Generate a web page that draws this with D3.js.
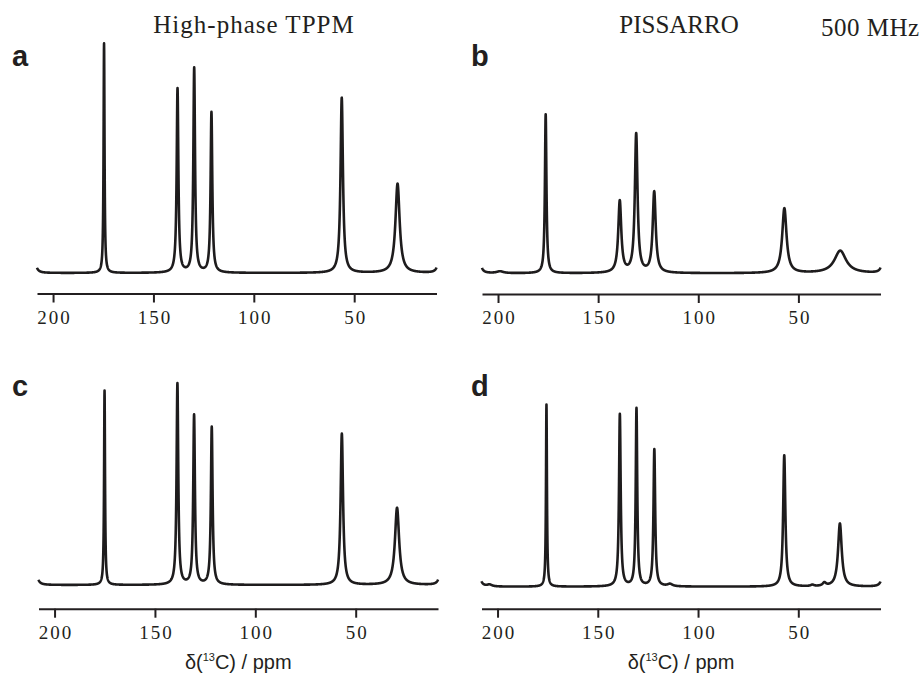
<!DOCTYPE html>
<html lang="en">

<head>
    <meta charset="UTF-8" />
    <title>13C CPMAS decoupling comparison</title>
    <script src="https://cdnjs.cloudflare.com/ajax/libs/d3/7.8.5/d3.min.js"></script>
    <style>
        body {
            margin: 0;
            padding: 0;
            background: white;
        }

        .col-title {
            font-family: 'Liberation Serif', serif;
            font-size: 25px;
            fill: #231f20;
        }

        .panel-letter {
            font-family: 'Liberation Sans', Arial, sans-serif;
            font-weight: bold;
            font-size: 29px;
            fill: #231f20;
        }

        .x-title {
            font-family: 'Liberation Sans', Arial, sans-serif;
            font-size: 20px;
            fill: #231f20;
        }
    </style>
</head>

<body>
    <svg id="chart" width="922" height="675"></svg>

    <script>
        // chemical shift window and ticks
        const ppmDomain = [208, 9];
        const tickValues = [200, 150, 100, 50];
        const panelLetters = ["a", "b", "c", "d"];
        const columnTitles = ["High-phase TPPM", "PISSARRO"];

        // peaks: shift (ppm), height (a.u., tallest = 100), half-width (ppm)
        const shiftsA = [174.6, 138.0, 129.7, 121.1, 56.2, 28.4];
        const heightsA = [100, 80.2, 89.1, 69.8, 76.3, 38.9];
        const widthsA = [0.28, 0.5, 0.5, 0.5, 0.72, 1.25];

        const shiftsB = [199.0, 176.2, 139.2, 131.0, 122.0, 57.0, 29.1];
        const heightsB = [0.8, 69.2, 31.2, 60.4, 35.2, 28.2, 9.8];
        const widthsB = [2.0, 0.45, 0.9, 0.8, 0.9, 1.3, 3.5];

        const shiftsC = [175.1, 138.8, 130.5, 121.7, 56.9, 29.4];
        const heightsC = [84.7, 87.6, 73.8, 68.7, 65.9, 33.6];
        const widthsC = [0.28, 0.5, 0.5, 0.5, 0.72, 1.25];

        const shiftsD = [204.0, 175.6, 139.0, 130.7, 121.8, 114.0, 57.0, 43.0, 37.0, 29.25];
        const heightsD = [0.8, 79.3, 75.0, 77.5, 59.7, 1.0, 57.2, 0.6, 1.4, 27.5];
        const widthsD = [1.5, 0.28, 0.5, 0.45, 0.5, 1.5, 0.65, 1.0, 1.0, 1.1];

        // the small upturn at both ends of every spectrum
        const edgeShifts = [209.6, 7.4];
        const edgeHeights = [11.5, 11.0];
        const edgeWidths = [0.8, 0.8];

        const panels = [
            { shifts: shiftsA, heights: heightsA, widths: widthsA, x0: 37, x1: 436.5, base: 273, axisY: 293.5 },
            { shifts: shiftsB, heights: heightsB, widths: widthsB, x0: 482, x1: 880.5, base: 273.3, axisY: 294 },
            { shifts: shiftsC, heights: heightsC, widths: widthsC, x0: 38.5, x1: 438, base: 585, axisY: 608.7 },
            { shifts: shiftsD, heights: heightsD, widths: widthsD, x0: 481.5, x1: 880.5, base: 586.7, axisY: 608.7 }
        ];

        const svg = d3.select("#chart");

        function spectrum(shifts, heights, widths) {
            const allShifts = shifts.concat(edgeShifts);
            const allHeights = heights.concat(edgeHeights);
            const allWidths = widths.concat(edgeWidths);
            return d3.range(ppmDomain[1], ppmDomain[0] + 0.001, 0.05).map(ppm => {
                let v = 0;
                allShifts.forEach((s, i) => {
                    const u = (ppm - s) / allWidths[i];
                    v += allHeights[i] / (1 + u * u);
                });
                return { ppm, v };
            });
        }

        panels.forEach((p, i) => {
            const x = d3.scaleLinear().domain(ppmDomain).range([p.x0, p.x1]);
            const y = d3.scaleLinear().domain([0, 100]).range([p.base, p.base - 229.5]);

            const g = svg.append("g");

            g.append("path")
                .datum(spectrum(p.shifts, p.heights, p.widths))
                .attr("fill", "none")
                .attr("stroke", "#1e1c1d")
                .attr("stroke-width", 2.6)
                .attr("stroke-linejoin", "round")
                .attr("d", d3.line().x(d => x(d.ppm)).y(d => y(d.v)));

            const axis = g.append("g")
                .attr("transform", `translate(0,${p.axisY})`)
                .call(d3.axisBottom(x).tickValues(tickValues).tickSize(9).tickSizeOuter(0).tickPadding(8));
            axis.select(".domain").attr("stroke", "#231f20").attr("stroke-width", 2);
            axis.selectAll(".tick line").attr("stroke", "#231f20").attr("stroke-width", 2);
            axis.selectAll(".tick text")
                .attr("font-family", "'Liberation Serif', serif")
                .attr("font-size", 19)
                .attr("letter-spacing", "2px")
                .attr("fill", "#231f20")
                .attr("dx", "1px");

            g.append("text")
                .attr("class", "panel-letter")
                .attr("x", i % 2 === 0 ? 12 : 471)
                .attr("y", i < 2 ? 66 : 396)
                .text(panelLetters[i]);

            if (i >= 2) {
                const t = g.append("text")
                    .attr("class", "x-title")
                    .attr("x", (p.x0 + p.x1) / 2)
                    .attr("y", 669)
                    .attr("text-anchor", "middle");
                t.append("tspan").text("δ(");
                t.append("tspan").attr("font-size", "11px").attr("dy", "-8").text("13");
                t.append("tspan").attr("dy", "8").text("C) / ppm");
            }
        });

        svg.append("text")
            .attr("class", "col-title")
            .attr("x", 254)
            .attr("y", 33)
            .attr("text-anchor", "middle")
            .attr("letter-spacing", "1px")
            .text(columnTitles[0]);

        svg.append("text")
            .attr("class", "col-title")
            .attr("x", 679)
            .attr("y", 33)
            .attr("text-anchor", "middle")
            .text(columnTitles[1]);

        svg.append("text")
            .attr("class", "col-title")
            .attr("x", 821)
            .attr("y", 36)
            .attr("font-size", "24px")
            .attr("letter-spacing", "0.5px")
            .text("500 MHz");
    </script>
</body>

</html>
